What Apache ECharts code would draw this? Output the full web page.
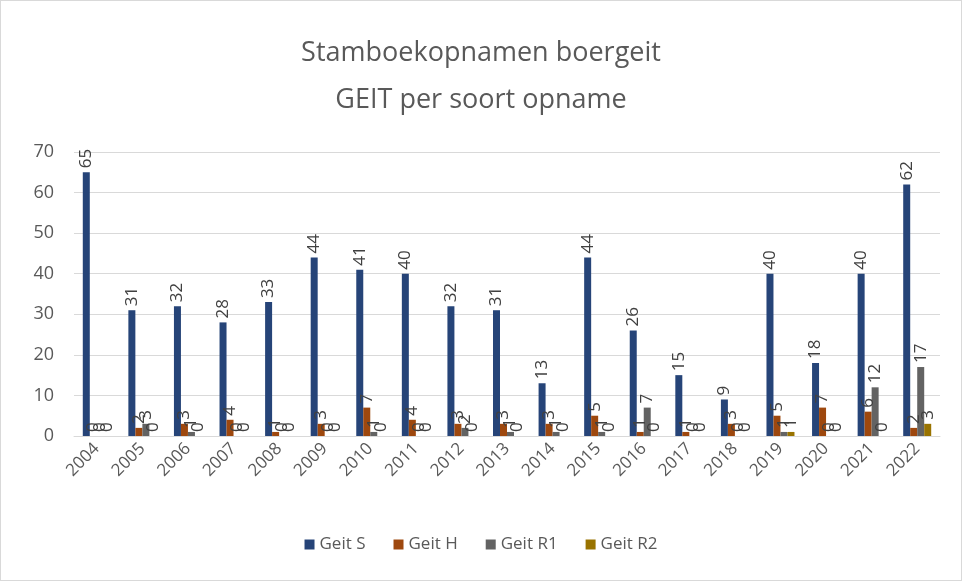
<!DOCTYPE html>
<html>
<head>
<meta charset="utf-8">
<script src="https://cdn.jsdelivr.net/npm/echarts@6/dist/echarts.min.js"></script>
<style>
  html, body { margin: 0; padding: 0; background: #fff; }
  #chart { width: 962px; height: 581px; box-sizing: border-box; border: 1px solid #d9d9d9; }
</style>
</head>
<body>
<div id="chart"></div>
<script>
var years = ['2004', '2005', '2006', '2007', '2008', '2009', '2010', '2011', '2012', '2013',
    '2014', '2015', '2016', '2017', '2018', '2019', '2020', '2021', '2022'];
var geitS = [65, 31, 32, 28, 33, 44, 41, 40, 32, 31, 13, 44, 26, 15, 9, 40, 18, 40, 62];
var geitH = [0, 2, 3, 4, 1, 3, 7, 4, 3, 3, 3, 5, 1, 1, 3, 5, 7, 6, 2];
var geitR1 = [0, 3, 1, 0, 0, 0, 1, 0, 2, 1, 1, 1, 7, 0, 0, 1, 0, 12, 17];
var geitR2 = [0, 0, 0, 0, 0, 0, 0, 0, 0, 0, 0, 0, 0, 0, 0, 1, 0, 0, 3];
var yTicks = [0, 10, 20, 30, 40, 50, 60, 70];

var font = 'Open Sans, sans-serif';

function makeSeries(name, data, color) {
    return {
        name: name,
        type: 'bar',
        data: data,
        barWidth: 7,
        barGap: '0%',
        itemStyle: {color: color},
        label: {
            show: true,
            position: 'top',
            rotate: 90,
            align: 'left',
            verticalAlign: 'middle',
            distance: 4,
            color: '#404040',
            fontSize: 17,
            fontFamily: font
        }
    };
}

var myChart = echarts.init(document.getElementById('chart'));
var option = {
    animation: false,
    title: {
        text: 'Stamboekopnamen boergeit\nGEIT per soort opname',
        left: 'center',
        top: 24,
        textStyle: {
            color: '#595959',
            fontSize: 27,
            fontWeight: 'normal',
            fontFamily: font,
            lineHeight: 47
        }
    },
    legend: {
        bottom: 22,
        left: 'center',
        icon: 'rect',
        itemWidth: 10,
        itemHeight: 10,
        itemGap: 28,
        textStyle: {color: '#595959', fontSize: 17, fontFamily: font}
    },
    grid: {left: 73, right: 21, top: 151, bottom: 144},
    xAxis: {
        type: 'category',
        data: years,
        axisTick: {show: false},
        axisLine: {lineStyle: {color: '#d9d9d9', width: 1}},
        axisLabel: {
            rotate: 45,
            color: '#595959',
            fontSize: 17,
            fontFamily: font,
            interval: 0,
            margin: 10
        }
    },
    yAxis: {
        type: 'value',
        min: yTicks[0],
        max: yTicks[yTicks.length - 1],
        interval: 10,
        axisLine: {show: false},
        axisTick: {show: false},
        splitLine: {lineStyle: {color: '#d9d9d9'}},
        axisLabel: {color: '#595959', fontSize: 18, fontFamily: font, margin: 20}
    },
    series: [
        makeSeries('Geit S', geitS, '#264478'),
        makeSeries('Geit H', geitH, '#9e480e'),
        makeSeries('Geit R1', geitR1, '#636363'),
        makeSeries('Geit R2', geitR2, '#997300')
    ]
};
myChart.setOption(option);
</script>
</body>
</html>
